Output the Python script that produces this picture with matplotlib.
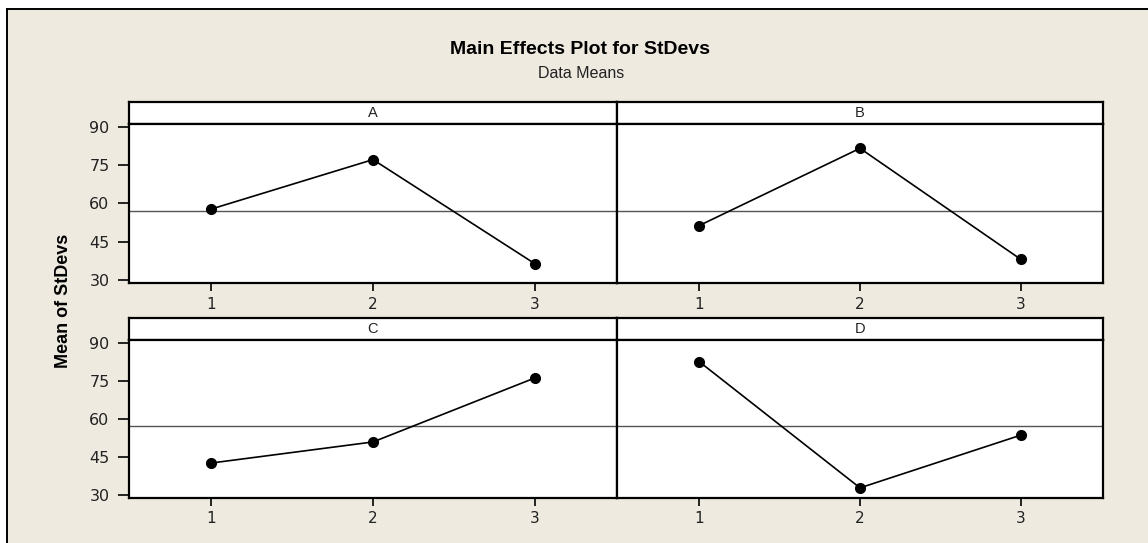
import matplotlib
matplotlib.use("Agg")
import matplotlib.pyplot as plt
from matplotlib.lines import Line2D
from matplotlib.patches import Rectangle

# values
factors = ["A", "B", "C", "D"]
levels = [1, 2, 3]
mean_a = [57.8, 77.1, 36.5]
mean_b = [51.3, 81.5, 38.1]
mean_c = [42.5, 50.8, 76.0]
mean_d = [82.5, 32.7, 53.5]
grand_mean = 57.1
y_ticks = [30, 45, 60, 75, 90]

W, H = 1148, 543
BEIGE = "#EEEAE0"


def fx(x):
    return x / W


def fy(y):
    return 1 - y / H


fig = plt.figure(figsize=(W / 100, H / 100), dpi=100, facecolor="white")

# beige panel with a frame on the top and left only (image is cropped)
fig.patches.append(Rectangle((fx(7), -0.05), 1.0, fy(9) + 0.05,
                             transform=fig.transFigure, facecolor=BEIGE,
                             edgecolor="none", zorder=-5))
fig.lines.append(Line2D([fx(7), 1.05], [fy(9), fy(9)],
                        transform=fig.transFigure,
                        color="black", linewidth=1.4, zorder=-4))
fig.lines.append(Line2D([fx(7), fx(7)], [-0.05, fy(9)],
                        transform=fig.transFigure,
                        color="black", linewidth=1.4, zorder=-4))

fig.text(fx(580), fy(50), "Main Effects Plot for StDevs", ha="center",
         va="center", fontsize=14, fontweight="bold",
         family="Liberation Sans")
fig.text(fx(581), fy(73), "Data Means", ha="center", va="center",
         fontsize=11.5, family="Liberation Sans", color="#222222")
fig.text(fx(63), fy(301), "Mean of StDevs", ha="center", va="center",
         rotation=90, fontsize=13, fontweight="bold",
         family="Liberation Sans")

cols = [(129, 617), (617, 1103)]
rows = [(102, 124, 283), (318, 340, 497.5)]
series = [mean_a, mean_b, mean_c, mean_d]

for i, (name, values) in enumerate(zip(factors, series)):
    r, c = divmod(i, 2)
    x0, x1 = cols[c]
    s_top, d_top, d_bot = rows[r]

    strip = fig.add_axes([fx(x0), fy(d_top), fx(x1 - x0), (d_top - s_top) / H])
    strip.set_xticks([])
    strip.set_yticks([])
    strip.set_facecolor("white")
    strip.text(0.5, 0.5, name, ha="center", va="center", fontsize=10.5,
               family="Liberation Sans", color="#222222")
    for sp in strip.spines.values():
        sp.set_linewidth(1.6)

    ax = fig.add_axes([fx(x0), fy(d_bot), fx(x1 - x0), (d_bot - d_top) / H])
    ax.set_facecolor("white")
    ax.axhline(grand_mean, color="#555555", linewidth=1.0, zorder=1)
    ax.plot(levels, values, color="black", linewidth=1.2, marker="o",
            markersize=7, zorder=3)
    ax.set_xlim(0.49, 3.51)
    ax.set_ylim(28.9, 91.0)
    ax.set_xticks(levels)
    ax.set_xticklabels([str(v) for v in levels], fontsize=11,
                       family="DejaVu Sans", color="#222222")
    ax.tick_params(axis="x", length=6, width=1.2, pad=4)
    ax.set_yticks(y_ticks)
    if c == 0:
        ax.set_yticklabels([str(v) for v in y_ticks], fontsize=11.5,
                           family="DejaVu Sans", color="#222222")
        ax.tick_params(axis="y", length=8, width=1.2, pad=6)
    else:
        ax.tick_params(axis="y", length=0, labelleft=False)
    for sp in ax.spines.values():
        sp.set_linewidth(1.6)

fig.savefig("out.png", dpi=100, facecolor="white")
plt.close(fig)
